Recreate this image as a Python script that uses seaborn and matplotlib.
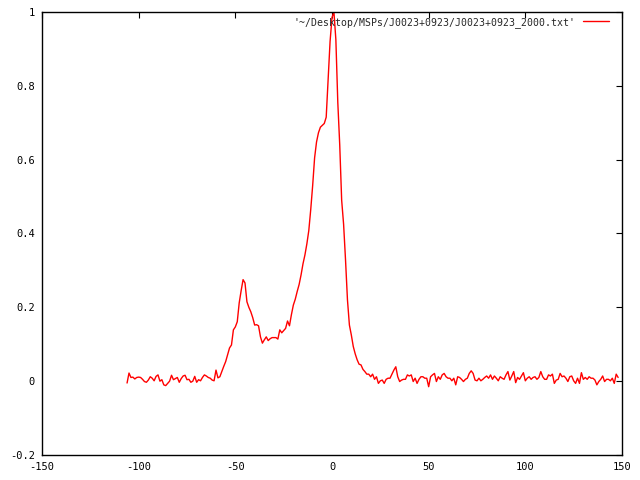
import matplotlib
matplotlib.use("Agg")
import matplotlib.pyplot as plt
import numpy as np
import seaborn as sns
sns.set_style("white")
plt.rcParams['font.family'] = ['DejaVu Sans Mono', 'DejaVu Sans']

# pulse phase bins (deg) and normalised flux
phase = np.arange(-106, 149)

flux_left = [
    -0.005, 0.022, 0.010, 0.011, 0.006, 0.010, 0.011, 0.010, 0.005, -0.001,
    -0.003, 0.003, 0.012, 0.008, 0.001, 0.013, 0.017, 0.000, 0.004, -0.010,
    -0.012, -0.006, 0.000, 0.016, 0.004, 0.007, 0.010, -0.003, 0.007, 0.014,
    0.016, 0.004, 0.005, -0.003, 0.000, 0.013, -0.003, 0.004, 0.001, 0.010,
    0.017, 0.014, 0.010, 0.008, 0.003, 0.001,
]

flux_pulse = [
    0.030, 0.009, 0.012, 0.026, 0.040, 0.053, 0.071, 0.090, 0.098, 0.139,
    0.147, 0.161, 0.212, 0.245, 0.275, 0.266, 0.215, 0.200, 0.188, 0.172,
    0.152, 0.153, 0.150, 0.120, 0.103, 0.112, 0.120, 0.110, 0.115, 0.118,
    0.118, 0.118, 0.114, 0.139, 0.131, 0.137, 0.143, 0.163, 0.150, 0.180,
    0.206, 0.222, 0.243, 0.262, 0.288, 0.318, 0.342, 0.372, 0.408, 0.465,
    0.530, 0.605, 0.648, 0.673, 0.688, 0.693, 0.698, 0.715, 0.815, 0.920,
    0.985, 1.000, 0.925, 0.755, 0.640, 0.490, 0.425, 0.328, 0.220, 0.152,
    0.125, 0.094, 0.074, 0.058, 0.046, 0.044, 0.032,
]

flux_right = [
    0.026, 0.019, 0.019, 0.012, 0.019, 0.005, 0.012, -0.006, 0.001, 0.003,
    -0.006, 0.005, 0.008, 0.008, 0.019, 0.030, 0.039, 0.012, -0.001, 0.003,
    0.005, 0.005, 0.017, 0.014, 0.017, -0.001, 0.008, -0.006, 0.005, 0.012,
    0.012, 0.008, 0.008, -0.015, 0.012, 0.017, 0.021, -0.001, 0.012, 0.005,
    0.017, 0.021, 0.012, 0.008, 0.008, 0.001, 0.008, -0.010, 0.012, 0.010,
    0.005, -0.001, 0.005, 0.008, 0.021, 0.028, 0.021, 0.003, 0.001, 0.008,
    0.001, 0.005, 0.010, 0.014, 0.008, 0.017, 0.005, 0.014, 0.008, 0.001,
    0.012, 0.008, 0.005, 0.017, 0.026, 0.003, 0.014, 0.026, -0.004, 0.010,
    0.005, 0.014, 0.023, 0.001, 0.008, 0.012, 0.005, 0.010, 0.012, 0.005,
    0.010, 0.026, 0.012, 0.005, 0.005, 0.017, 0.014, 0.019, -0.006, 0.003,
    0.005, 0.021, 0.012, 0.014, 0.008, -0.001, 0.012, 0.014, 0.001, -0.006,
    0.008, -0.006, 0.023, 0.005, 0.010, 0.005, 0.012, 0.008, 0.008, 0.003,
    -0.010, -0.001, 0.005, 0.014, -0.001, 0.005, 0.005, 0.001, 0.008, -0.006,
    0.019, 0.010,
]

flux = np.array(flux_left + flux_pulse + flux_right)

x_ticks = [-150, -100, -50, 0, 50, 100, 150]
y_ticks = [-0.2, 0, 0.2, 0.4, 0.6, 0.8, 1]
y_labels = ['-0.2', '0', '0.2', '0.4', '0.6', '0.8', '1']
label = "'~/Desktop/MSPs/J0023+0923/J0023+0923_2000.txt'"

fig = plt.figure(figsize=(6.4, 4.8), dpi=100)
ax = fig.add_axes([42 / 640, 25 / 480, 580 / 640, 443 / 480])

sns.lineplot(x=phase, y=flux, color='#ff0000', linewidth=1.0,
             label=label, sort=False, ax=ax)

ax.set_xlim(-150, 150)
ax.set_ylim(-0.2, 1)
ax.set_xticks(x_ticks)
ax.set_xticklabels([str(t) for t in x_ticks])
ax.set_yticks(y_ticks)
ax.set_yticklabels(y_labels)
ax.tick_params(direction='in', length=4, width=0.8, top=True, right=True,
               labelsize=7.5, colors='black', pad=5)
for s in ax.spines.values():
    s.set_color('black')
    s.set_linewidth(1.0)

ax.legend(loc='upper right', bbox_to_anchor=(0.986, 1.0), frameon=False,
          markerfirst=False, handlelength=2.6, fontsize=7.1,
          borderaxespad=0.2, borderpad=0.3, handletextpad=0.8)

fig.savefig('out.png', dpi=100)
